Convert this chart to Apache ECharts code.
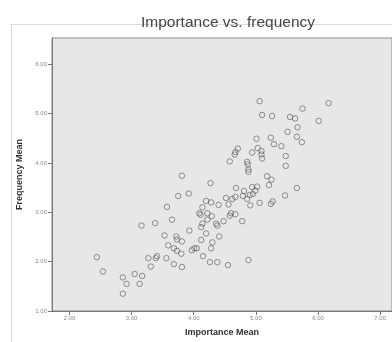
<!DOCTYPE html>
<html><head><meta charset="utf-8">
<script src="https://cdn.jsdelivr.net/npm/echarts@6/dist/echarts.min.js"></script>
<style>html,body{margin:0;padding:0;background:#fff}#c{width:392px;height:342px}</style>
</head><body><div id="c"></div>
<script>
const titleText = "Importance vs. frequency";
const xName = "Importance Mean";
const yName = "Frequency Mean";
const xTicks = [2, 3, 4, 5, 6, 7];
const yTicks = [1, 2, 3, 4, 5, 6];
const importance = [2.44,2.54,2.86,2.92,2.86,3.05,3.17,3.13,3.16,3.38,3.57,3.65,3.53,3.59,3.68,3.72,3.73,3.73,3.27,3.39,3.41,3.31,3.56,3.68,3.75,3.81,3.92,3.81,3.80,3.81,3.93,3.97,4.01,4.05,4.15,4.26,4.38,4.55,4.28,4.30,4.41,4.20,4.12,4.14,4.12,4.09,4.11,4.22,4.14,4.29,4.22,4.36,4.38,4.48,4.58,4.60,4.67,4.78,4.20,4.28,4.40,4.52,4.56,4.27,4.58,4.67,4.66,4.71,4.62,4.67,4.68,4.81,4.79,4.90,4.86,4.95,4.99,4.94,5.02,4.91,5.06,5.24,5.27,5.47,5.66,4.88,5.06,5.10,5.26,5.75,6.17,5.55,5.63,6.01,5.51,5.67,5.66,5.74,5.01,5.24,5.29,5.41,4.94,5.03,5.09,5.09,5.10,4.86,4.87,4.88,4.88,5.48,5.48,5.18,5.25,5.21];
const frequency = [2.09,1.80,1.68,1.55,1.35,1.75,1.71,1.55,2.73,2.78,3.11,2.85,2.53,2.33,2.27,2.51,2.45,2.22,2.07,2.07,2.11,1.90,2.07,1.95,3.33,3.74,3.38,2.41,2.16,1.89,2.63,2.23,2.27,2.27,2.11,1.99,1.99,1.93,2.27,2.39,2.51,2.57,2.44,2.77,2.70,2.98,2.95,2.98,3.10,2.92,2.85,2.77,2.73,2.82,2.93,2.98,2.96,2.82,3.23,3.20,3.15,3.29,3.16,3.59,4.03,4.22,4.17,4.29,3.27,3.31,3.49,3.43,3.33,3.35,3.27,3.37,3.44,3.51,3.52,3.14,3.19,3.17,3.22,3.34,3.49,2.03,5.25,4.97,4.95,5.10,5.21,4.93,4.90,4.85,4.63,4.72,4.53,4.42,4.49,4.51,4.38,4.34,4.21,4.30,4.24,4.17,4.09,4.02,3.97,3.87,3.82,4.14,3.94,3.73,3.66,3.55];

const points = importance.map((v, i) => [v, frequency[i]]);
const chart = echarts.init(document.getElementById('c'), null, {renderer: 'canvas'});
const fam = '"Liberation Sans", Arial, sans-serif';
chart.setOption({
  backgroundColor: '#ffffff',
  animation: false,
  graphic: [
    {type: 'line', z: 0, shape: {x1: 10, y1: 24.5, x2: 392, y2: 24.5}, style: {stroke: '#dcdcdc', lineWidth: 1}},
    {type: 'line', z: 0, shape: {x1: 11.5, y1: 24, x2: 11.5, y2: 342}, style: {stroke: '#dcdcdc', lineWidth: 1}}
  ],
  title: {
    text: titleText, left: 136, top: 10,
    textStyle: {fontFamily: fam, fontSize: 15.5, fontWeight: 'normal', color: '#444'}
  },
  grid: {
    left: 52, top: 38, right: -2, bottom: 28,
    show: true, backgroundColor: '#e7e7e7', borderColor: '#8a8a8a', borderWidth: 1
  },
  xAxis: {
    type: 'value', min: 1.72, max: 7.19,
    name: xName, nameLocation: 'middle', nameGap: 17,
    nameTextStyle: {fontFamily: fam, fontSize: 9, fontWeight: 'bold', color: '#333'},
    axisLine: {show: true, lineStyle: {color: '#777', width: 1}},
    axisTick: {show: true, length: 4, lineStyle: {color: '#777'}, customValues: xTicks},
    axisLabel: {fontFamily: fam, fontSize: 6, color: '#888', margin: 4, customValues: xTicks,
      formatter: v => v.toFixed(2)},
    splitLine: {show: false}
  },
  yAxis: {
    type: 'value', min: 1, max: 6.53,
    name: yName, nameLocation: 'middle', nameGap: 25, nameRotate: 90,
    nameTextStyle: {fontFamily: fam, fontSize: 9, fontWeight: 'bold', color: '#333'},
    axisLine: {show: true, lineStyle: {color: '#777', width: 1}},
    axisTick: {show: true, length: 4, lineStyle: {color: '#777'}, customValues: yTicks},
    axisLabel: {fontFamily: fam, fontSize: 6, color: '#888', margin: 5, customValues: yTicks,
      formatter: v => v.toFixed(2)},
    splitLine: {show: false}
  },
  series: [{
    type: 'scatter',
    data: points,
    symbol: 'circle',
    symbolSize: 5.5,
    itemStyle: {color: 'rgba(0,0,0,0)', borderColor: 'rgba(70,70,70,0.7)', borderWidth: 1}
  }]
});
</script></body></html>
